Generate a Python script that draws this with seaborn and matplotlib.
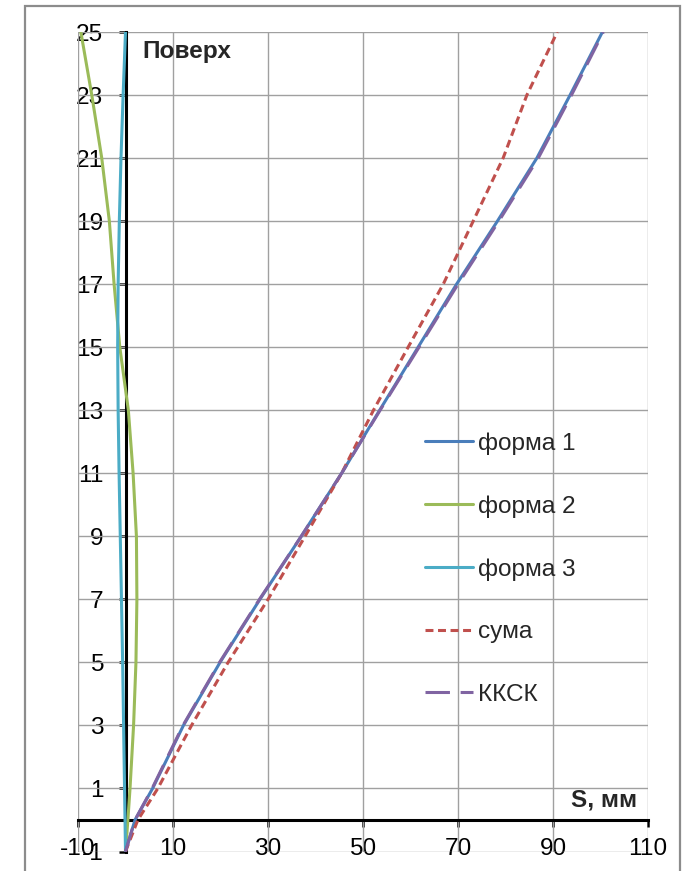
import matplotlib
matplotlib.use("Agg")
import matplotlib.pyplot as plt
from matplotlib.patches import Rectangle
import pandas as pd
import seaborn as sns

# depth levels (m) and displacement of each mode / combination (mm)
depth = [-1, 0, 1, 3, 5, 7, 9, 11, 13, 15, 17, 19, 21, 23, 25]
forma1 = [0, 2.0, 5.7, 12.2, 19.9, 28.3, 37.0, 45.5, 53.5, 61.6, 69.7, 78.3, 86.6, 93.6, 100.4]
forma2 = [0, 0.5, 0.95, 1.7, 2.2, 2.4, 2.3, 1.6, 0.6, -1.2, -2.4, -3.4, -5.0, -7.1, -9.4]
forma3 = [0, -0.1, -0.2, -0.4, -0.6, -0.85, -1.1, -1.35, -1.55, -1.65, -1.55, -1.3, -0.95, -0.5, 0]
suma = [0, 2.6, 6.8, 13.9, 21.6, 30.0, 37.8, 45.5, 52.2, 59.5, 66.9, 73.2, 79.5, 84.5, 90.9]
kksk = [0, 2.0, 5.6, 12.1, 19.8, 28.2, 37.0, 45.5, 53.6, 61.8, 70.0, 78.6, 86.9, 93.9, 100.6]

series_names = ["форма 1", "форма 2", "форма 3", "сума", "ККСК"]
series_values = [forma1, forma2, forma3, suma, kksk]

x_ticks = [-10, 10, 30, 50, 70, 90, 110]
y_ticks = [-1, 1, 3, 5, 7, 9, 11, 13, 15, 17, 19, 21, 23, 25]

sns.set_style("white")
plt.rcParams["font.family"] = ["Liberation Sans", "DejaVu Sans"]
plt.rcParams["axes.unicode_minus"] = False

FS = 17.6

fig = plt.figure(figsize=(6.85, 8.71), dpi=100)
ax = fig.add_axes([78 / 685, 1 - 851.5 / 871, 570 / 685, 819.5 / 871])

styles = {
    "форма 1": dict(color="#4A7EBB", linestyle="-", zorder=4),
    "форма 2": dict(color="#9BBB59", linestyle="-", zorder=4),
    "форма 3": dict(color="#4BACC6", linestyle="-", zorder=4),
    "сума": dict(color="#C0504D", linestyle=(0, (2.6, 1.5)), zorder=5),
    "ККСК": dict(color="#8064A2", linestyle=(0, (8, 3.5)), zorder=6),
}

order = ["форма 2", "форма 3", "форма 1", "сума", "ККСК"]
for name in order:
    vals = series_values[series_names.index(name)]
    df = pd.DataFrame({"s": vals, "z": depth})
    st = styles[name]
    sns.lineplot(data=df, x="s", y="z", orient="y", sort=False, estimator=None,
                 ax=ax, color=st["color"], linestyle=st["linestyle"],
                 linewidth=2.2, zorder=st["zorder"], label=name)

ax.set_xlim(-10, 110)
ax.set_ylim(-1, 25)
ax.set_xticks(x_ticks)
ax.set_yticks(y_ticks)
ax.set_xlabel("")
ax.set_ylabel("")

# grid: every labelled tick, including the frame edges
grid_kw = dict(color="#A0A0A0", linewidth=1.0, zorder=1)
for xv in x_ticks:
    ax.axvline(xv, **grid_kw)
for yv in y_ticks:
    ax.axhline(yv, **grid_kw)
ax.grid(False)

# axes cross at zero
for side in ["top", "right"]:
    ax.spines[side].set_visible(False)
ax.spines["left"].set_position(("data", 0))
ax.spines["bottom"].set_position(("data", 0))
for side in ["left", "bottom"]:
    ax.spines[side].set_color("black")
    ax.spines[side].set_linewidth(2.2)
    ax.spines[side].set_zorder(3)

ax.tick_params(axis="both", which="major", direction="out", length=5, width=1.8,
               color="black", labelsize=FS, labelcolor="black",
               left=True, bottom=True)
ax.tick_params(axis="x", pad=8.0)
ax.tick_params(axis="y", pad=11.0)

ax.text(3.6, 24.17, "Поверх", fontsize=FS, fontweight="bold", ha="left",
        va="baseline", zorder=7)
ax.text(107.7, 0.44, "S, мм", fontsize=FS, fontweight="bold", ha="right",
        va="baseline", zorder=7)

handles, labels = ax.get_legend_handles_labels()
hmap = dict(zip(labels, handles))
ax.legend([hmap[n] for n in series_names], series_names, loc="upper left",
          bbox_to_anchor=((425 - 78) / 570, 1 - (432 - 32) / 819.5),
          frameon=False, fontsize=FS, handlelength=1.95, handletextpad=0.22,
          labelspacing=1.66, borderpad=0, borderaxespad=0)

# outer chart frame
fig.patches.append(Rectangle((25 / 685, -0.05), 655 / 685, 1.05 - 6 / 871,
                             transform=fig.transFigure, fill=False,
                             edgecolor="#8C8C8C", linewidth=1.6, zorder=0))

fig.savefig("out.png", dpi=100)
